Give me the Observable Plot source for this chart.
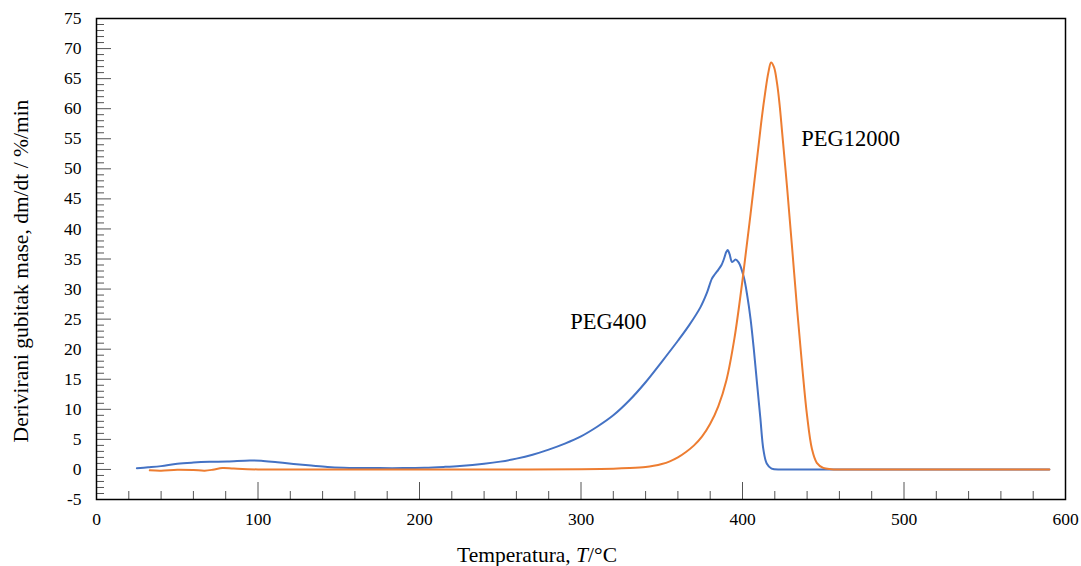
<!DOCTYPE html>
<html><head><meta charset="utf-8">
<script src="https://cdn.jsdelivr.net/npm/d3@7"></script>
<script src="https://cdn.jsdelivr.net/npm/@observablehq/plot@0.6"></script>
<style>body{margin:0;background:#fff}#chart svg{display:block}</style>
</head><body><div id="chart"></div>
<script>
// PEG400 (blue) — temperature °C and dm/dt %/min
const peg400T = [25, 32, 40, 50, 60, 70, 81, 95, 102, 112, 122, 133, 143, 153, 163, 175, 190, 203, 215, 225, 240, 250, 260, 270, 280, 290, 300, 310, 320, 330, 340, 350, 360, 367, 374, 378, 381, 383, 385, 387, 388.5, 390, 390.9, 392, 393.6, 395.7, 397.7, 400.8, 403, 405, 407, 409, 411, 413, 415, 418, 425, 450, 500, 550, 590];
const peg400V = [0.2, 0.35, 0.55, 0.95, 1.15, 1.27, 1.33, 1.5, 1.44, 1.18, 0.92, 0.65, 0.42, 0.3, 0.25, 0.22, 0.22, 0.28, 0.42, 0.58, 0.95, 1.3, 1.8, 2.45, 3.3, 4.3, 5.5, 7.1, 9.0, 11.5, 14.5, 17.9, 21.4, 24.0, 27.0, 29.4, 31.7, 32.5, 33.2, 34.0, 35.0, 36.2, 36.5, 35.8, 34.5, 34.9, 34.4, 32.0, 28.8, 25.0, 20.0, 14.3, 8.7, 3.2, 1.0, 0.15, 0.0, 0.0, 0.0, 0.0, 0.0];

// PEG12000 (orange)
const peg12000T = [33, 40, 50, 60, 67, 72, 78, 85, 100, 150, 200, 250, 300, 320, 330, 340, 345, 350, 355, 360, 365, 370, 375, 380, 385, 390, 395, 400, 405, 410, 412, 414, 416, 417.7, 419.5, 421.4, 423, 424.5, 427.7, 430.8, 433.9, 437, 440, 443, 446, 450, 455, 470, 520, 590];
const peg12000V = [-0.15, -0.2, -0.05, -0.1, -0.2, -0.05, 0.25, 0.15, 0.0, 0.0, 0.0, 0.0, 0.05, 0.12, 0.22, 0.4, 0.6, 0.9, 1.35, 2.0, 2.9, 4.0, 5.5, 7.6, 10.5, 14.8, 21.8, 31.5, 42.5, 54.0, 58.6, 62.6, 66.0, 67.7, 66.9, 64.2, 60.6, 56.2, 46.6, 36.6, 26.4, 17.0, 8.9, 3.4, 1.1, 0.25, 0.05, 0.0, 0.0, 0.0];

const seriesNames = ["PEG400", "PEG12000"];
const seriesColors = ["#4472C4", "#ED7D31"];
const labelT = [317, 467];
const labelV = [24.5, 55];

const xTicks = [0, 100, 200, 300, 400, 500, 600];
const yTicks = [-5, 0, 5, 10, 15, 20, 25, 30, 35, 40, 45, 50, 55, 60, 65, 70, 75];
const xMinor = d3.range(0, 601, 20).filter(d => d % 100 !== 0);
const yMinor = d3.range(-5, 76, 1).filter(d => d % 5 !== 0);

const W = 1081, H = 566, mL = 96, mR = 16, mT = 18, mB = 67;
const pw = W - mL - mR, ph = H - mT - mB;

const d400 = peg400T.map((t, i) => ({T: t, v: peg400V[i]}));
const d12000 = peg12000T.map((t, i) => ({T: t, v: peg12000V[i]}));
const labels = seriesNames.map((n, i) => ({name: n, T: labelT[i], v: labelV[i]}));

const chart = Plot.plot({
  width: W, height: H,
  marginLeft: mL, marginRight: mR, marginTop: mT, marginBottom: mB,
  style: {fontFamily: "'Liberation Serif', 'Times New Roman', serif", fontSize: "17.5px", color: "#000", background: "#fff"},
  x: {domain: [0, 600]},
  y: {domain: [-5, 75]},
  marks: [
    Plot.tickX(xMinor, {x: d => d, insetTop: ph - 8, stroke: "#555"}),
    Plot.tickX(xTicks, {x: d => d, insetTop: ph - 17, stroke: "#555"}),
    Plot.tickY(yMinor, {y: d => d, insetRight: pw - 8, stroke: "#555"}),
    Plot.tickY(yTicks, {y: d => d, insetRight: pw - 15, stroke: "#555"}),
    Plot.axisX(xTicks, {tickSize: 0, tickPadding: 13, label: null, tickFormat: d => String(d), fontSize: 17.5}),
    Plot.axisY(yTicks, {tickSize: 0, tickPadding: 15, label: null, tickFormat: d => String(d), fontSize: 17.5}),
    Plot.line(d400, {x: "T", y: "v", stroke: seriesColors[0], strokeWidth: 2, curve: "catmull-rom"}),
    Plot.line(d12000, {x: "T", y: "v", stroke: seriesColors[1], strokeWidth: 2, curve: "catmull-rom"}),
    Plot.text(labels, {x: "T", y: "v", text: "name", fontSize: 22.5, fill: "#000"}),
    Plot.frame({stroke: "#000", strokeWidth: 1.5})
  ]
});
document.getElementById("chart").appendChild(chart);

const svg = d3.select(chart);
const xt = svg.append("text")
  .attr("x", 537).attr("y", 562)
  .attr("text-anchor", "middle")
  .attr("font-size", 21.5)
  .attr("fill", "#000");
xt.append("tspan").text("Temperatura, ");
xt.append("tspan").attr("font-style", "italic").text("T");
xt.append("tspan").text("/°C");

svg.append("text")
  .attr("transform", "translate(28,271) rotate(-90)")
  .attr("text-anchor", "middle")
  .attr("font-size", 21.5)
  .attr("fill", "#000")
  .text("Derivirani gubitak mase, dm/dt / %/min");
</script>
</body></html>
